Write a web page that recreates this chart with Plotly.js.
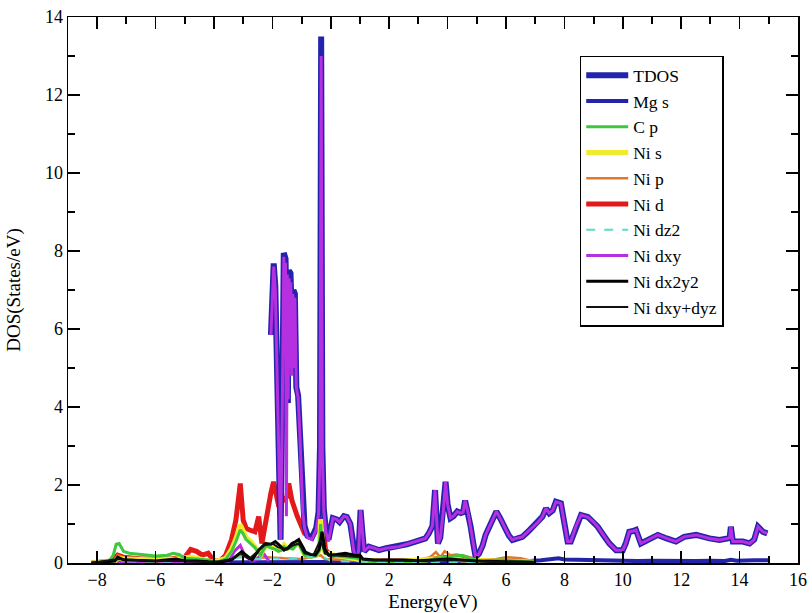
<!DOCTYPE html>
<html>
<head>
<meta charset="utf-8">
<script src="https://cdn.plot.ly/plotly-3.0.1.min.js"></script>
<style>html,body{margin:0;padding:0;background:#fff;}#chart{width:812px;height:613px;}
#preload{position:absolute;left:-9999px;top:0;font-family:'Liberation Serif';font-size:20px;}
#preload::after{content:'Energy(eV) DOS TDOS Mg s C p Ni dxy+dyz 0123456789-';}</style>
</head>
<body>
<div id="preload"></div>
<div id="chart"></div>
<script>
// ---------- Data ----------
// Main curve (TDOS)
const tdosE = [-2.05,-1.955,-1.9,-1.84,-1.78,-1.72,-1.66,-1.61,-1.55,-1.5,-1.47,-1.44,-1.38,-1.33,-1.28,-1.23,-1.18,-1.12,-1.07,-1.02,-0.96,-0.9,-0.8,-0.65,-0.5,-0.42,-0.37,-0.33,-0.29,-0.24,-0.17,-0.08,0.0,0.07,0.2,0.3,0.45,0.55,0.67,0.78,0.86,0.95,1.02,1.08,1.14,1.3,1.5,1.65,1.9,2.1,2.33,2.6,2.9,3.1,3.24,3.35,3.48,3.57,3.62,3.67,3.75,3.85,3.93,4.0,4.1,4.2,4.33,4.45,4.53,4.6,4.7,4.79,4.88,4.96,5.07,5.2,5.3,5.45,5.67,5.8,5.99,6.1,6.22,6.34,6.56,6.75,6.91,7.1,7.25,7.37,7.48,7.6,7.71,7.88,7.98,8.11,8.22,8.4,8.57,8.8,9.0,9.14,9.35,9.54,9.77,10.0,10.1,10.22,10.35,10.45,10.62,10.75,10.91,11.2,11.5,11.82,12.1,12.51,12.97,13.31,13.6,13.66,13.7,13.77,14.11,14.34,14.5,14.63,14.8,14.95];
const tdos  = [5.85,7.68,7.1,4.9,2.2,0.6,4.2,7.95,7.8,6.2,4.1,7.5,7.43,6.2,7.0,6.9,4.5,4.3,3.6,2.4,1.4,0.95,0.7,0.65,0.9,1.3,3.0,13.5,3.0,1.4,0.85,0.6,0.9,1.15,1.12,1.05,1.2,1.18,1.0,0.35,0.05,0.3,1.36,0.8,0.3,0.42,0.38,0.33,0.38,0.4,0.42,0.48,0.55,0.58,0.63,0.75,0.95,1.87,1.1,0.5,0.65,1.3,2.08,1.5,1.15,1.2,1.32,1.28,1.3,1.6,1.3,0.93,0.5,0.16,0.23,0.45,0.72,0.95,1.32,1.15,0.85,0.7,0.59,0.63,0.67,0.8,0.93,1.05,1.19,1.4,1.28,1.35,1.57,1.53,1.1,0.55,0.55,0.95,1.23,1.18,1.05,0.93,0.7,0.5,0.33,0.33,0.5,0.8,0.82,0.85,0.5,0.55,0.63,0.72,0.63,0.55,0.67,0.72,0.63,0.59,0.63,0.65,0.93,0.55,0.55,0.5,0.6,0.93,0.8,0.76];

// Mg s
const mgsE = [-8.2,-4,-2,0,2,4,6,6.8,7.2,7.6,7.8,8.0,8.5,9.0,9.5,10.0,10.5,11,11.5,12,12.5,13,13.5,13.7,13.9,14.5,15];
const mgs  = [0,0.01,0.02,0.02,0.02,0.02,0.03,0.05,0.07,0.1,0.12,0.09,0.08,0.07,0.06,0.04,0.05,0.06,0.05,0.06,0.05,0.06,0.05,0.08,0.06,0.07,0.07];

// C p
const cpE = [-8.2,-7.6,-7.45,-7.35,-7.25,-7.1,-6.9,-6.5,-6.0,-5.6,-5.4,-5.2,-5.0,-4.6,-4.2,-3.9,-3.6,-3.4,-3.25,-3.1,-3.0,-2.9,-2.75,-2.6,-2.5,-2.4,-2.3,-2.2,-2.1,-2.0,-1.9,-1.8,-1.7,-1.6,-1.5,-1.4,-1.3,-1.2,-1.1,-1.0,-0.9,-0.7,-0.5,-0.4,-0.35,-0.28,-0.2,0,0.3,0.6,0.9,1.1,1.5,2.5,3.3,3.6,3.9,4.2,4.5,4.8,5.2,5.8,6.3,7];
const cp  = [0,0.03,0.2,0.48,0.5,0.3,0.25,0.22,0.18,0.2,0.25,0.22,0.12,0.1,0.08,0.02,0.1,0.3,0.55,0.85,0.75,0.6,0.5,0.4,0.3,0.2,0.35,0.45,0.4,0.38,0.35,0.3,0.32,0.42,0.35,0.38,0.36,0.45,0.5,0.35,0.2,0.15,0.18,0.3,1.0,0.45,0.25,0.2,0.18,0.15,0.12,0.05,0.03,0.03,0.05,0.12,0.15,0.18,0.2,0.1,0.05,0.08,0.05,0.02];

// Ni s
const nisE = [-8.2,-7.4,-7.3,-7.1,-6.0,-5.3,-4.8,-4.4,-4.0,-3.6,-3.4,-3.25,-3.1,-3.0,-2.9,-2.75,-2.6,-2.5,-2.4,-2.3,-2.2,-2.1,-2.0,-1.9,-1.8,-1.7,-1.6,-1.5,-1.4,-1.3,-1.2,-1.1,-1.0,-0.9,-0.7,-0.5,-0.4,-0.35,-0.28,-0.2,0,0.5,1.0,2.0,3.5,4.0,4.5,5.5,7];
const nis  = [0,0.05,0.12,0.1,0.08,0.1,0.15,0.08,0.02,0.12,0.35,0.62,0.98,0.82,0.65,0.55,0.43,0.33,0.22,0.38,0.48,0.44,0.4,0.37,0.33,0.35,0.46,0.38,0.41,0.39,0.48,0.55,0.38,0.22,0.17,0.2,0.33,1.12,0.48,0.27,0.22,0.15,0.08,0.03,0.08,0.12,0.08,0.05,0.02];

// Ni p
const nipE = [-8.2,-7.4,-7.3,-7.1,-6.0,-5.0,-4.8,-4.4,-4.0,-3.4,-3.1,-2.8,-2.2,-1.6,-1.0,-0.35,-0.2,0.5,1.0,2.0,3.0,3.4,3.6,3.75,3.9,4.1,4.3,4.6,5.0,5.5,6.0,6.5,7];
const nip  = [0,0.05,0.2,0.15,0.1,0.08,0.12,0.08,0.03,0.1,0.2,0.12,0.15,0.12,0.1,0.2,0.1,0.08,0.05,0.05,0.08,0.15,0.28,0.15,0.3,0.2,0.22,0.18,0.1,0.08,0.15,0.12,0.03];

// Ni d
const nidE = [-8.2,-7.5,-7.3,-7.1,-6.5,-5.5,-5.0,-4.8,-4.6,-4.4,-4.2,-4.0,-3.8,-3.6,-3.4,-3.25,-3.1,-3.0,-2.9,-2.8,-2.6,-2.47,-2.36,-2.18,-2.05,-1.96,-1.85,-1.78,-1.61,-1.5,-1.44,-1.33,-1.15,-0.9,-0.64,-0.45,-0.35,-0.25,-0.18,0,0.5,0.9,1.0,1.2,2,3,3.5,4.0,4.5,5,6,7];
const nid  = [0,0.05,0.2,0.15,0.1,0.1,0.15,0.35,0.3,0.2,0.25,0.05,0.05,0.2,0.6,1.1,2.04,1.1,0.9,0.85,0.8,1.19,0.5,1.36,1.8,2.08,1.6,1.44,1.63,1.7,2.04,1.6,1.2,0.76,0.67,0.9,1.57,0.6,0.33,0.2,0.18,0.12,0.1,0.05,0.05,0.05,0.1,0.15,0.1,0.05,0.05,0.03];

// Ni dz2
const dz2E = [-8.2,-7.3,-6,-4.8,-4,-3.1,-2.5,-2,-1.5,-1,-0.35,0,1,3,5,7];
const dz2  = [0,0.05,0.03,0.05,0.02,0.15,0.1,0.12,0.1,0.12,0.2,0.05,0.03,0.02,0.02,0.01];

// Ni dxy
const dxyE = [-8.2,-4.0,-3.5,-3.3,-3.1,-2.95,-2.7,-2.5,-2.35,-2.2,-2.12,-2.1,-2.05,-1.955,-1.9,-1.84,-1.78,-1.72,-1.66,-1.61,-1.58,-1.55,-1.52,-1.49,-1.46,-1.43,-1.4,-1.37,-1.34,-1.3,-1.26,-1.23,-1.18,-1.12,-1.07,-1.02,-0.96,-0.9,-0.8,-0.65,-0.5,-0.42,-0.37,-0.33,-0.29,-0.24,-0.17,-0.08,0.0,0.07,0.2,0.3,0.45,0.55,0.67,0.78,0.86,0.95,1.02,1.08,1.14,1.3,1.5,1.65,1.9,2.1,2.33,2.6,2.9,3.1,3.24,3.35,3.48,3.57,3.62,3.67,3.75,3.85,3.93,4.0,4.1,4.2,4.33,4.45,4.53,4.6,4.7,4.79,4.88,4.96,5.07,5.2,5.3,5.45,5.67,5.8,5.99,6.1,6.22,6.34,6.56,6.75,6.91,7.1,7.25,7.37,7.48,7.6,7.71,7.88,7.98,8.11,8.22,8.4,8.57,8.8,9.0,9.14,9.35,9.54,9.77,10.0,10.1,10.22,10.35,10.45,10.62,10.75,10.91,11.2,11.5,11.82,12.1,12.51,12.97,13.31,13.6,13.66,13.7,13.77,14.11,14.34,14.5,14.63,14.8,14.95];
const dxy  = [0,0.02,0.05,0.3,0.45,0.2,0.05,0.1,0.3,0.15,0.05,null,5.85,7.6,7.0,4.9,2.2,0.6,4.0,7.85,5.5,7.7,1.2,7.4,4.2,7.3,5.0,7.2,4.8,6.9,5.0,6.8,4.5,4.25,3.5,2.3,1.3,0.9,0.65,0.6,0.85,1.25,2.8,13.0,2.8,1.35,0.8,0.55,0.9,1.15,1.12,1.05,1.2,1.18,1.0,0.35,0.05,0.3,1.36,0.8,0.3,0.42,0.38,0.33,0.38,0.4,0.42,0.48,0.55,0.58,0.63,0.75,0.95,1.87,1.1,0.5,0.65,1.3,2.08,1.5,1.15,1.2,1.32,1.28,1.3,1.6,1.3,0.93,0.5,0.16,0.23,0.45,0.72,0.95,1.32,1.15,0.85,0.7,0.59,0.63,0.67,0.8,0.93,1.05,1.19,1.4,1.28,1.35,1.57,1.53,1.1,0.55,0.55,0.95,1.23,1.18,1.05,0.93,0.7,0.5,0.33,0.33,0.5,0.8,0.82,0.85,0.5,0.55,0.63,0.72,0.63,0.55,0.67,0.72,0.63,0.59,0.63,0.65,0.93,0.55,0.55,0.5,0.6,0.93,0.8,0.76];

// Ni dx2y2
const dx2E = [-8.2,-7.4,-7.3,-7.1,-6.0,-5.3,-5.0,-4.6,-4.2,-3.8,-3.4,-3.2,-3.05,-2.9,-2.7,-2.47,-2.24,-2.05,-1.9,-1.75,-1.6,-1.45,-1.33,-1.2,-1.1,-0.95,-0.87,-0.7,-0.53,-0.4,-0.3,-0.2,-0.07,0.2,0.5,0.8,1.0,1.1,1.5,2.5,3.0,3.5,4.0,4.5,5.0,6.0,7.0];
const dx2  = [0,0.05,0.15,0.08,0.05,0.1,0.05,0.05,0.03,0.02,0.08,0.2,0.29,0.2,0.08,0.33,0.5,0.48,0.55,0.45,0.33,0.4,0.5,0.55,0.6,0.4,0.28,0.22,0.2,0.35,0.8,0.35,0.2,0.22,0.25,0.2,0.2,0.1,0.08,0.08,0.06,0.08,0.1,0.08,0.05,0.03,0.02];

// Ni dxy+dyz
const dxyzE = [-8.2,-7.3,-6.0,-5.0,-4.0,-3.4,-3.1,-2.8,-2.5,-2.3,-2.0,-1.8,-1.5,-1.3,-1.1,-0.9,-0.6,-0.35,-0.2,0,0.5,1.0,1.2,2.0,3.0,4.0,5.0,6.0,7.0];
const dxyz  = [0,0.1,0.05,0.05,0.02,0.1,0.25,0.1,0.3,0.45,0.5,0.4,0.35,0.45,0.5,0.25,0.2,0.6,0.25,0.2,0.18,0.15,0.08,0.06,0.05,0.08,0.05,0.02,0.02];

const xTitle = 'Energy(eV)';
const yTitle = 'DOS(States/eV)';

// ---------- Traces ----------
function tr(name, x, y, color, width, rank, dash) {
  return {type: 'scatter', mode: 'lines', name: name, x: x, y: y,
    line: {color: color, width: width, dash: dash || 'solid'},
    legendrank: rank, hoverinfo: 'skip'};
}
const traces = [
  tr('Mg s', mgsE, mgs, '#2424a8', 4, 2),
  tr('Ni d', nidE, nid, '#e41a1a', 5, 6),
  tr('Ni p', nipE, nip, '#e0782a', 2.5, 5),
  tr('TDOS', tdosE, tdos, '#2323ad', 6, 1),
  tr('Ni dxy', dxyE, dxy, '#b430e0', 3, 8),
  tr('Ni s', nisE, nis, '#f2ea2e', 5, 4),
  tr('C p', cpE, cp, '#3cc83c', 3, 3),
  tr('Ni dz2', dz2E, dz2, '#5adcc8', 2, 7, 'dash'),
  tr('Ni dx2y2', dx2E, dx2, '#000000', 3, 9),
  tr('Ni dxy+dyz', dxyzE, dxyz, '#111111', 2, 10)
];

const FAM = 'Liberation Serif';
const layout = {
  width: 812, height: 613,
  margin: {l: 68, r: 14, t: 17, b: 50},
  paper_bgcolor: '#ffffff', plot_bgcolor: '#ffffff',
  showlegend: true,
  font: {family: FAM, color: '#000000', size: 19},
  xaxis: {
    range: [-9, 16], tick0: 0, dtick: 2, ticks: 'inside', ticklen: 12, tickwidth: 1.5, tickcolor: '#000000',
    minor: {dtick: 1, ticks: 'inside', ticklen: 7, tickwidth: 2, tickcolor: '#000000'},
    showline: true, linecolor: '#000000', linewidth: 1.5, mirror: 'ticks',
    showgrid: false, zeroline: false,
    tickfont: {family: FAM, size: 18, color: '#000000'},
    title: {text: xTitle, font: {family: FAM, size: 19, color: '#000000'}}
  },
  yaxis: {
    range: [0, 14], tick0: 0, dtick: 2, ticks: 'inside', ticklen: 12, tickwidth: 1.5, tickcolor: '#000000',
    minor: {dtick: 1, ticks: 'inside', ticklen: 7, tickwidth: 1.5, tickcolor: '#000000'},
    showline: true, linecolor: '#000000', linewidth: 1.5, mirror: 'ticks',
    showgrid: false, zeroline: false,
    tickfont: {family: FAM, size: 18, color: '#000000'},
    title: {text: yTitle, font: {family: FAM, size: 19, color: '#000000'}}
  },
  legend: {
    x: 0.701, y: 0.929, xanchor: 'left', yanchor: 'top',
    bgcolor: '#ffffff', bordercolor: '#000000', borderwidth: 1.5,
    font: {family: FAM, size: 17.5, color: '#000000'},
    itemwidth: 42,
    traceorder: 'normal'
  }
};

Plotly.newPlot('chart', traces, layout, {displayModeBar: false, staticPlot: true});
</script>
</body>
</html>
